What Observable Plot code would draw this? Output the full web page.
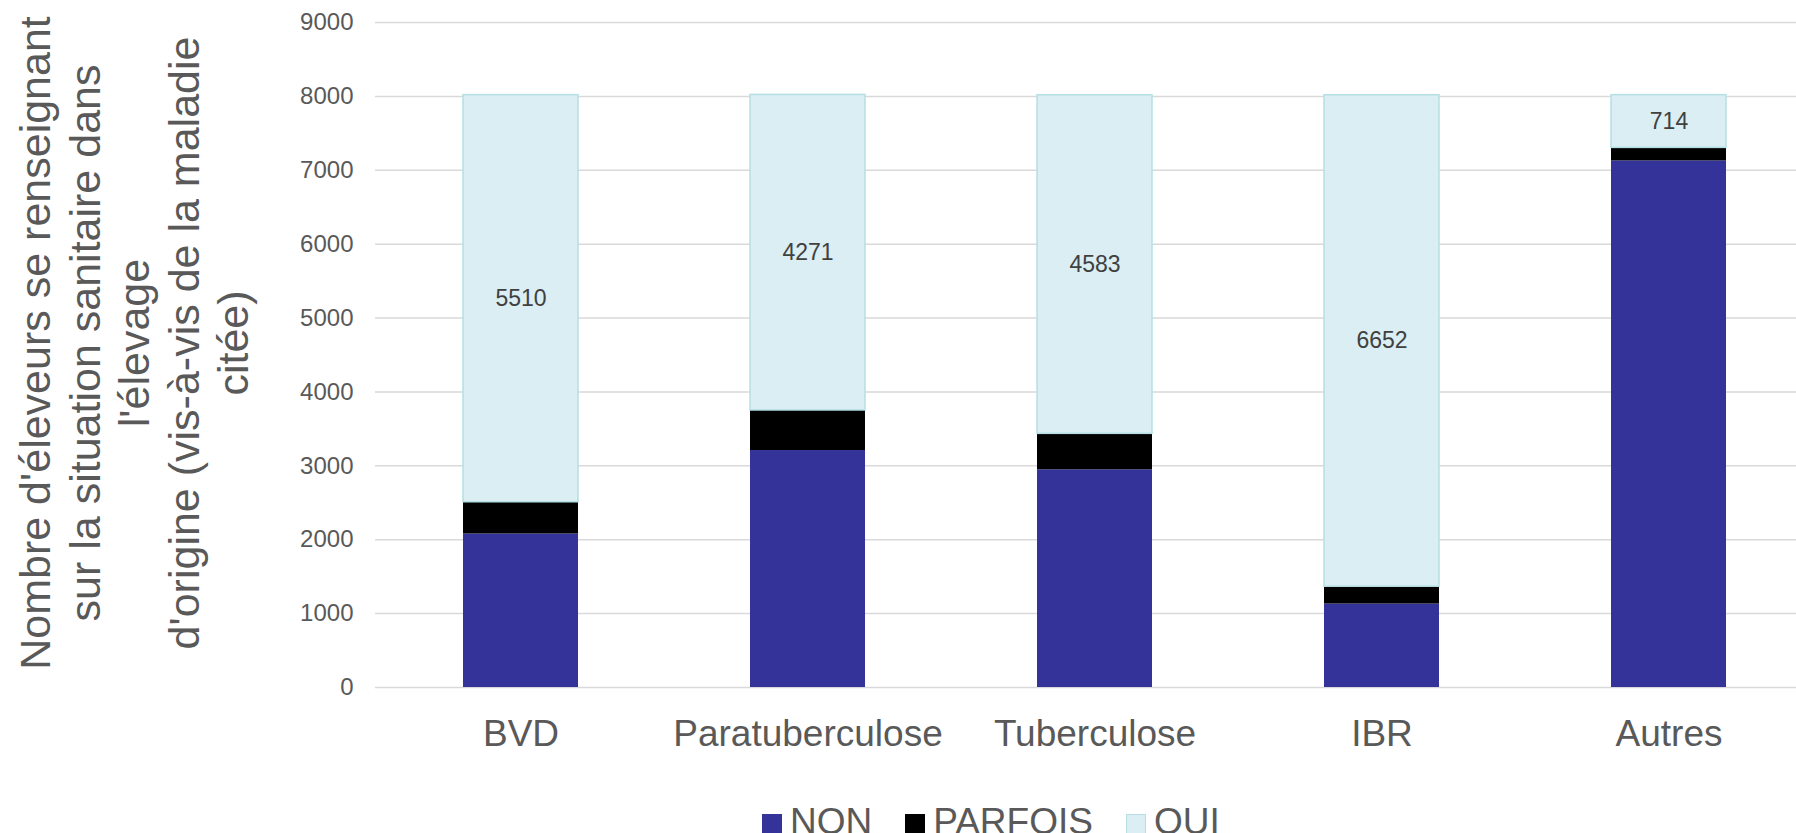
<!DOCTYPE html>
<html>
<head>
<meta charset="utf-8">
<script src="https://cdn.jsdelivr.net/npm/d3@7"></script>
<script src="https://cdn.jsdelivr.net/npm/@observablehq/plot@0.6"></script>
<style>
  html, body { margin: 0; padding: 0; background: #ffffff; }
  body { width: 1796px; height: 833px; overflow: hidden; font-family: "Liberation Sans", Arial, sans-serif; }
  #chart svg { display: block; }
  .legend { display: flex; align-items: center; margin-top: 8px; margin-left: 762px; height: 37px; }
  .legend .item { display: flex; align-items: center; margin-right: 33px; }
  .legend .sw { width: 20px; height: 20px; margin-right: 8px; box-sizing: border-box; position: relative; top: 2px; }
  .legend .lab { font-size: 37px; line-height: 37px; color: #595959; }
</style>
</head>
<body>
<div id="chart"></div>
<script>
const categories = ["BVD", "Paratuberculose", "Tuberculose", "IBR", "Autres"];
const nonValues = [2078, 3207, 2946, 1130, 7127];
const parfoisValues = [429, 542, 487, 234, 176];
const ouiValues = [5510, 4271, 4583, 6652, 714];
const statuses = ["NON", "PARFOIS", "OUI"];
const statusColors = ["#333399", "#000000", "#DAEEF3"];
const yTicks = [0, 1000, 2000, 3000, 4000, 5000, 6000, 7000, 8000, 9000];
const yTitle = "Nombre d'éleveurs se renseignant\nsur la situation sanitaire dans\nl'élevage\nd'origine (vis-à-vis de la maladie\ncitée)";

const series = {NON: nonValues, PARFOIS: parfoisValues, OUI: ouiValues};
const data = categories.flatMap((cat, i) =>
  statuses.map(status => ({cat, status, value: series[status][i]}))
);

const chart = Plot.plot({
  width: 1796,
  height: 795,
  marginLeft: 375,
  marginRight: 0,
  marginTop: 22,
  marginBottom: 108,
  style: {fontFamily: "'Liberation Sans', Arial, sans-serif", background: "#ffffff", overflow: "visible"},
  x: {domain: categories, range: [375, 1813.6], paddingInner: 0.5985, paddingOuter: 0.29925, label: null},
  y: {domain: [0, 9000], label: null},
  color: {domain: statuses, range: statusColors},
  marks: [
    Plot.gridY(yTicks, {stroke: "#d9d9d9", strokeOpacity: 1, strokeWidth: 1.5}),
    Plot.barY(data, Plot.stackY({
      x: "cat", y: "value", z: "status", fill: "status",
      stroke: "#b5dfe3", strokeWidth: 1.5,
      strokeOpacity: d => d.status === "OUI" ? 1 : 0
    })),
    Plot.text(data, Plot.stackY({
      x: "cat", y: "value", z: "status",
      text: d => d.status === "OUI" ? String(d.value) : null,
      fill: "#404040", fontSize: 23
    })),
    Plot.axisX({tickSize: 0, tickPadding: 32, fontSize: 37, color: "#595959", label: null}),
    Plot.axisY({ticks: yTicks, tickSize: 0, tickPadding: 22, fontSize: 24, color: "#595959", label: null, tickFormat: d => String(d)}),
    Plot.text([yTitle], {
      text: d => d, frameAnchor: "left", dx: -242, dy: -12, rotate: -90,
      fontSize: 43, lineHeight: 1.15, fill: "#595959", textAnchor: "middle", lineAnchor: "middle"
    })
  ]
});
document.getElementById("chart").appendChild(chart);

const legend = document.createElement("div");
legend.className = "legend";
statuses.forEach((s, i) => {
  const item = document.createElement("div");
  item.className = "item";
  const sw = document.createElement("div");
  sw.className = "sw";
  sw.style.background = statusColors[i];
  if (s === "OUI") sw.style.border = "1.5px solid #b5dfe3";
  const lab = document.createElement("span");
  lab.className = "lab";
  lab.textContent = s;
  item.appendChild(sw);
  item.appendChild(lab);
  legend.appendChild(item);
});
document.body.appendChild(legend);
</script>
</body>
</html>
